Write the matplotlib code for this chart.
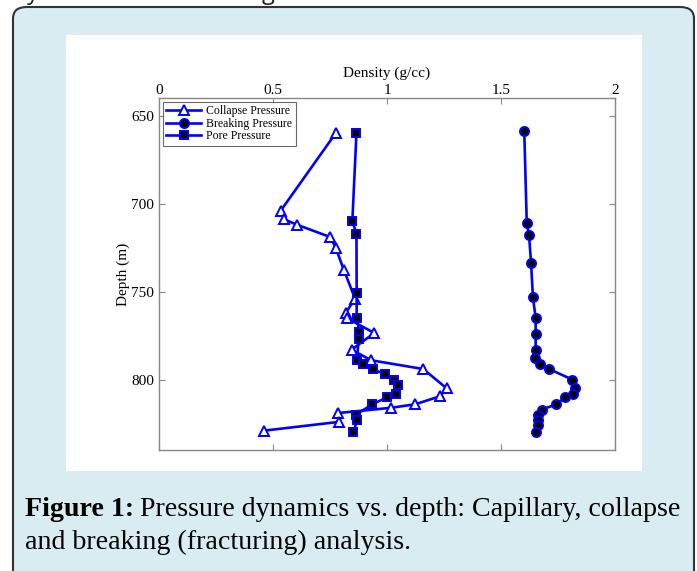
import numpy as np
import matplotlib
matplotlib.use('Agg')
import matplotlib.pyplot as plt
from matplotlib.patches import FancyBboxPatch, Rectangle

# depth (m) and density (g/cc)
collapse_depth = [660, 704, 709, 712, 719, 725, 737.5, 754, 762, 765, 773.5, 783,
                  789, 794, 805, 809.5, 814, 816, 819, 824, 829]
collapse_dens = [0.775, 0.534, 0.55, 0.605, 0.751, 0.775, 0.81, 0.86, 0.819, 0.823,
                 0.944, 0.845, 0.93, 1.159, 1.262, 1.232, 1.124, 1.019, 0.786, 0.791, 0.461]

breaking_depth = [659, 711, 718, 734, 753, 765, 774, 783, 788, 791, 794, 800, 805,
                  808, 810, 814, 817, 820, 823, 826, 830]
breaking_dens = [1.602, 1.613, 1.623, 1.632, 1.640, 1.652, 1.652, 1.652, 1.650, 1.672,
                 1.711, 1.813, 1.823, 1.816, 1.781, 1.743, 1.68, 1.664, 1.664, 1.664, 1.654]

pore_depth = [660, 710, 717, 751, 765, 773, 777, 789, 791, 794, 797, 800, 803, 808,
              810, 814, 820, 823, 830]
pore_dens = [0.866, 0.848, 0.866, 0.867, 0.867, 0.879, 0.876, 0.868, 0.896, 0.937,
             0.991, 1.032, 1.048, 1.039, 1.001, 0.936, 0.863, 0.87, 0.851]

xticks = [0, 0.5, 1, 1.5, 2]
xtick_labels = ['0', '0.5', '1', '1.5', '2']
yticks = [650, 700, 750, 800]

W, H = 697, 571
fig = plt.figure(figsize=(W / 100, H / 100), dpi=100)
fig.patch.set_facecolor('white')

# light blue rounded frame
frame = FancyBboxPatch((13 / W, -20 / H), 681 / W, (H - 7 + 20) / H,
                       boxstyle='round,pad=0,rounding_size=0.02',
                       transform=fig.transFigure, facecolor='#d8ecf1',
                       edgecolor='#333333', linewidth=1.5, zorder=0)
fig.patches.append(frame)
# white panel behind the chart
panel = Rectangle((66 / W, (H - 471) / H), 576 / W, 436 / H,
                  transform=fig.transFigure, facecolor='white',
                  edgecolor='none', zorder=1)
fig.patches.append(panel)

# clipped text from the previous page
fig.text(27 / W, 1.0 + 1 / H, 'y', fontsize=17, family='Open Sans', color='#222222',
         va='baseline')
fig.text(262 / W, 1.0 + 1 / H, 'g', fontsize=17, family='Open Sans', color='#222222',
         va='baseline')

ax = fig.add_axes([159 / W, (H - 450) / H, 456 / W, 352 / H], zorder=2)
ax.set_facecolor('white')

blue = '#0000ff'
ax.plot(collapse_dens, collapse_depth, '-', color=blue, lw=1.9, marker='^',
        markersize=6.5, markerfacecolor='white', markeredgecolor=blue,
        markeredgewidth=1.4, label='Collapse Pressure')
ax.plot(breaking_dens, breaking_depth, '-', color=blue, lw=1.9, marker='o',
        markersize=6.5, markerfacecolor='black', markeredgecolor=blue,
        markeredgewidth=1.4, label='Breaking Pressure')
ax.plot(pore_dens, pore_depth, '-', color=blue, lw=1.9, marker='s',
        markersize=5.5, markerfacecolor='black', markeredgecolor=blue,
        markeredgewidth=1.4, label='Pore Pressure')

ax.set_xlim(0, 2)
ax.set_ylim(840, 640)
ax.xaxis.tick_top()
ax.xaxis.set_label_position('top')
ax.set_xticks(xticks)
ax.set_xticklabels(xtick_labels)
ax.set_yticks(yticks)
ax.tick_params(direction='in', length=4, color='#888888', labelsize=11,
               top=True, bottom=True, left=True, right=True,
               labeltop=True, labelbottom=False)
ax.tick_params(axis='x', pad=1)
for lab in ax.get_xticklabels() + ax.get_yticklabels():
    lab.set_family('Liberation Serif')
for sp in ax.spines.values():
    sp.set_color('#888888')
    sp.set_linewidth(1.0)

ax.set_xlabel('Density (g/cc)', family='Liberation Serif', fontsize=11, labelpad=5)
ax.set_ylabel('Depth (m)', family='Liberation Serif', fontsize=11, labelpad=1)

leg = ax.legend(loc='upper left', prop={'family': 'Liberation Serif', 'size': 8.5},
                frameon=True, fancybox=False, borderpad=0.3, labelspacing=0.05,
                handlelength=3, handletextpad=0.4, borderaxespad=0.3)
leg.get_frame().set_edgecolor('#444444')
leg.get_frame().set_linewidth(0.8)

# caption: bold lead-in, then regular text placed right after it
cap_size = 20.2
t1 = fig.text(25 / W, 1 - 516 / H, 'Figure 1:', fontsize=cap_size,
              family='Liberation Serif', weight='bold', va='baseline')
fig.canvas.draw()
bb = t1.get_window_extent(renderer=fig.canvas.get_renderer())
fig.text(bb.x1 / W + 6 / W, 1 - 516 / H, 'Pressure dynamics vs. depth: Capillary, collapse',
         fontsize=cap_size, family='Liberation Serif', va='baseline')
fig.text(25 / W, 1 - 549 / H, 'and breaking (fracturing) analysis.',
         fontsize=cap_size, family='Liberation Serif', va='baseline')

fig.savefig('out.png', dpi=100)
